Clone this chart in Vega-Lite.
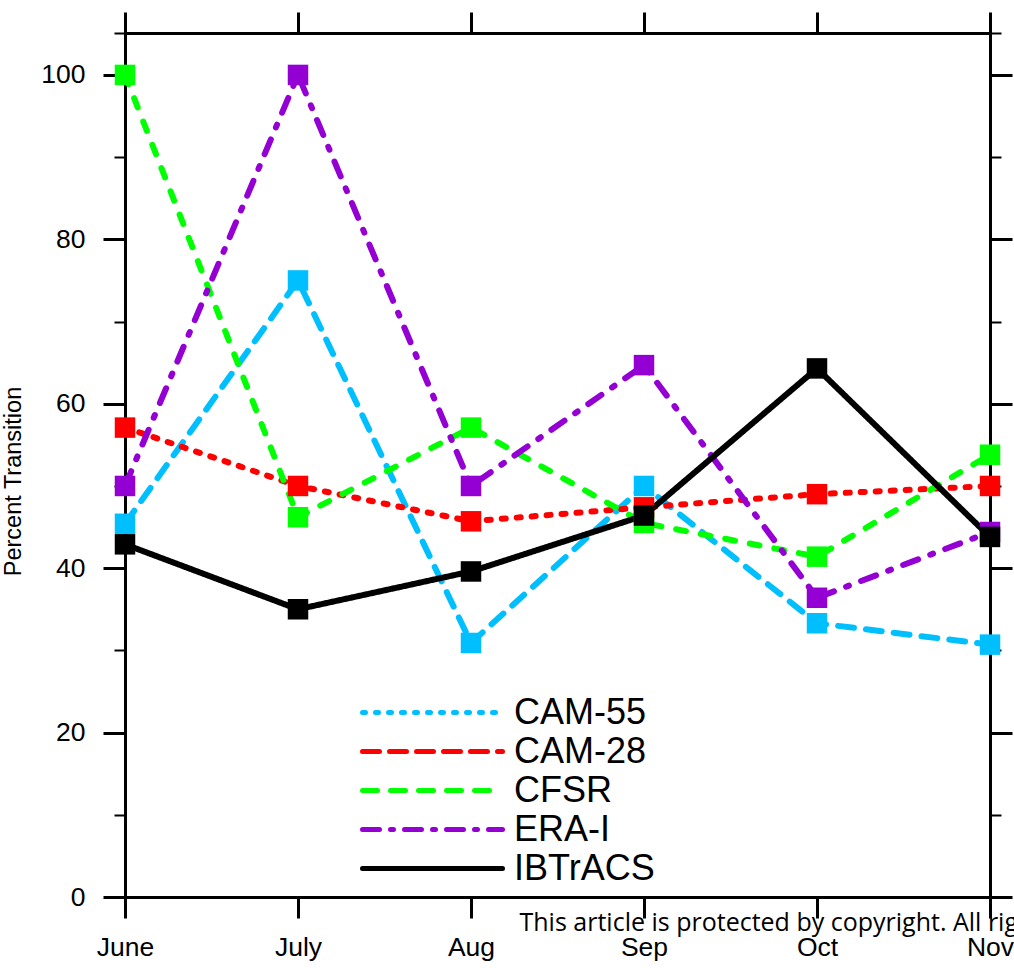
{
  "$schema": "https://vega.github.io/schema/vega-lite/v6.json",
  "width": 865,
  "height": 864,
  "autosize": {"type": "none"},
  "padding": {"left": 125, "top": 33, "right": 24, "bottom": 71},
  "background": "white",
  "config": {
    "view": {"stroke": null},
    "font": "Liberation Sans",
    "axis": {
      "domainColor": "black", "domainWidth": 3, "tickColor": "black", "tickWidth": 3,
      "labelColor": "black", "labelFont": "Liberation Sans", "labelFontSize": 26.5,
      "grid": false, "titleColor": "black", "titleFontWeight": "normal"
    }
  },
  "data": {"values": [
    {"month": "June", "series": "CAM-55", "value": 45.4},
    {"month": "July", "series": "CAM-55", "value": 75.0},
    {"month": "Aug", "series": "CAM-55", "value": 30.9},
    {"month": "Sep", "series": "CAM-55", "value": 50.0},
    {"month": "Oct", "series": "CAM-55", "value": 33.3},
    {"month": "Nov", "series": "CAM-55", "value": 30.7},
    {"month": "June", "series": "CAM-28", "value": 57.1},
    {"month": "July", "series": "CAM-28", "value": 50.0},
    {"month": "Aug", "series": "CAM-28", "value": 45.7},
    {"month": "Sep", "series": "CAM-28", "value": 47.4},
    {"month": "Oct", "series": "CAM-28", "value": 49.0},
    {"month": "Nov", "series": "CAM-28", "value": 50.0},
    {"month": "June", "series": "CFSR", "value": 100.0},
    {"month": "July", "series": "CFSR", "value": 46.2},
    {"month": "Aug", "series": "CFSR", "value": 57.1},
    {"month": "Sep", "series": "CFSR", "value": 45.5},
    {"month": "Oct", "series": "CFSR", "value": 41.4},
    {"month": "Nov", "series": "CFSR", "value": 53.8},
    {"month": "June", "series": "ERA-I", "value": 50.0},
    {"month": "July", "series": "ERA-I", "value": 100.0},
    {"month": "Aug", "series": "ERA-I", "value": 50.0},
    {"month": "Sep", "series": "ERA-I", "value": 64.7},
    {"month": "Oct", "series": "ERA-I", "value": 36.4},
    {"month": "Nov", "series": "ERA-I", "value": 44.4},
    {"month": "June", "series": "IBTrACS", "value": 42.9},
    {"month": "July", "series": "IBTrACS", "value": 35.0},
    {"month": "Aug", "series": "IBTrACS", "value": 39.6},
    {"month": "Sep", "series": "IBTrACS", "value": 46.4},
    {"month": "Oct", "series": "IBTrACS", "value": 64.3},
    {"month": "Nov", "series": "IBTrACS", "value": 43.8}
  ]},
  "resolve": {"axis": {"x": "independent", "y": "independent"}},
  "layer": [
    {
      "mark": {"type": "line", "strokeCap": "round", "strokeJoin": "round"},
      "encoding": {
        "x": {"field": "month", "type": "ordinal",
          "scale": {"type": "point", "domain": ["June", "July", "Aug", "Sep", "Oct", "Nov"], "padding": 0},
          "axis": {"orient": "bottom", "labelAngle": 0, "tickSize": 21, "labelPadding": 16,
            "title": "This article is protected by copyright. All rights reserved.",
            "titleFont": "Open Sans", "titleFontSize": 25, "titleX": 394, "titleY": 33,
            "titleAlign": "left", "titleBaseline": "alphabetic", "titleAnchor": null}},
        "y": {"field": "value", "type": "quantitative",
          "scale": {"domain": [0, 105.1], "nice": false, "zero": false},
          "axis": {"orient": "left", "values": [0, 20, 40, 60, 80, 100], "tickSize": 22, "labelPadding": 18,
            "title": "Percent Transition", "titleFontSize": 23.5, "titleX": -112, "titleY": 448,
            "titleBaseline": "middle", "titleAngle": -90}},
        "color": {"field": "series", "type": "nominal",
          "scale": {"domain": ["CAM-55", "CAM-28", "CFSR", "ERA-I", "IBTrACS"],
            "range": ["#00BFFF", "#FF0000", "#00FF00", "#9400D3", "#000000"]},
          "legend": {
            "orient": "none", "legendX": 235, "legendY": 660, "title": null,
            "symbolType": "stroke", "symbolSize": 19600, "symbolStrokeWidth": 5,
            "clipHeight": 39, "rowPadding": 0, "padding": 0, "labelOffset": 9,
            "labelFont": "Liberation Sans", "labelFontSize": 36, "labelColor": "black", "labelLimit": 400,
            "encode": {"symbols": {"update": {
              "strokeCap": {"value": "round"},
              "strokeWidth": {"value": 5},
              "strokeDash": {"signal": "datum.value === 'CAM-55' ? [3, 10] : datum.value === 'CAM-28' ? [17, 10] : datum.value === 'CFSR' ? [15, 13] : datum.value === 'ERA-I' ? [17, 11, 3, 11] : [1, 0]"}
            }}}
          }},
        "strokeDash": {"field": "series", "type": "nominal",
          "scale": {"range": [[4, 11], [16, 12], [10, 15], [16, 13, 3, 13], [1, 0]]},
          "legend": null},
        "strokeWidth": {"field": "series", "type": "nominal",
          "scale": {"range": [6, 6, 5.5, 6, 7]},
          "legend": null}
      }
    },
    {
      "mark": {"type": "point", "shape": "square", "filled": true, "size": 420, "opacity": 1, "strokeWidth": 0},
      "encoding": {
        "x": {"field": "month", "type": "ordinal",
          "axis": {"orient": "top", "labels": false, "tickSize": 21, "title": null}},
        "y": {"field": "value", "type": "quantitative",
          "axis": {"orient": "right", "values": [0, 20, 40, 60, 80, 100], "labels": false, "tickSize": 22, "title": null}},
        "color": {"field": "series", "type": "nominal"}
      }
    },
    {
      "mark": {"type": "point", "opacity": 0},
      "encoding": {
        "x": {"field": "month", "type": "ordinal", "axis": null},
        "y": {"field": "value", "type": "quantitative",
          "axis": {"orient": "left", "values": [10, 30, 50, 70, 90, 105.1], "labels": false, "tickSize": 11, "tickWidth": 2, "domain": false, "title": null}}
      }
    },
    {
      "mark": {"type": "point", "opacity": 0},
      "encoding": {
        "x": {"field": "month", "type": "ordinal", "axis": null},
        "y": {"field": "value", "type": "quantitative",
          "axis": {"orient": "right", "values": [10, 30, 50, 70, 90, 105.1], "labels": false, "tickSize": 11, "tickWidth": 2, "domain": false, "title": null}}
      }
    }
  ]
}
